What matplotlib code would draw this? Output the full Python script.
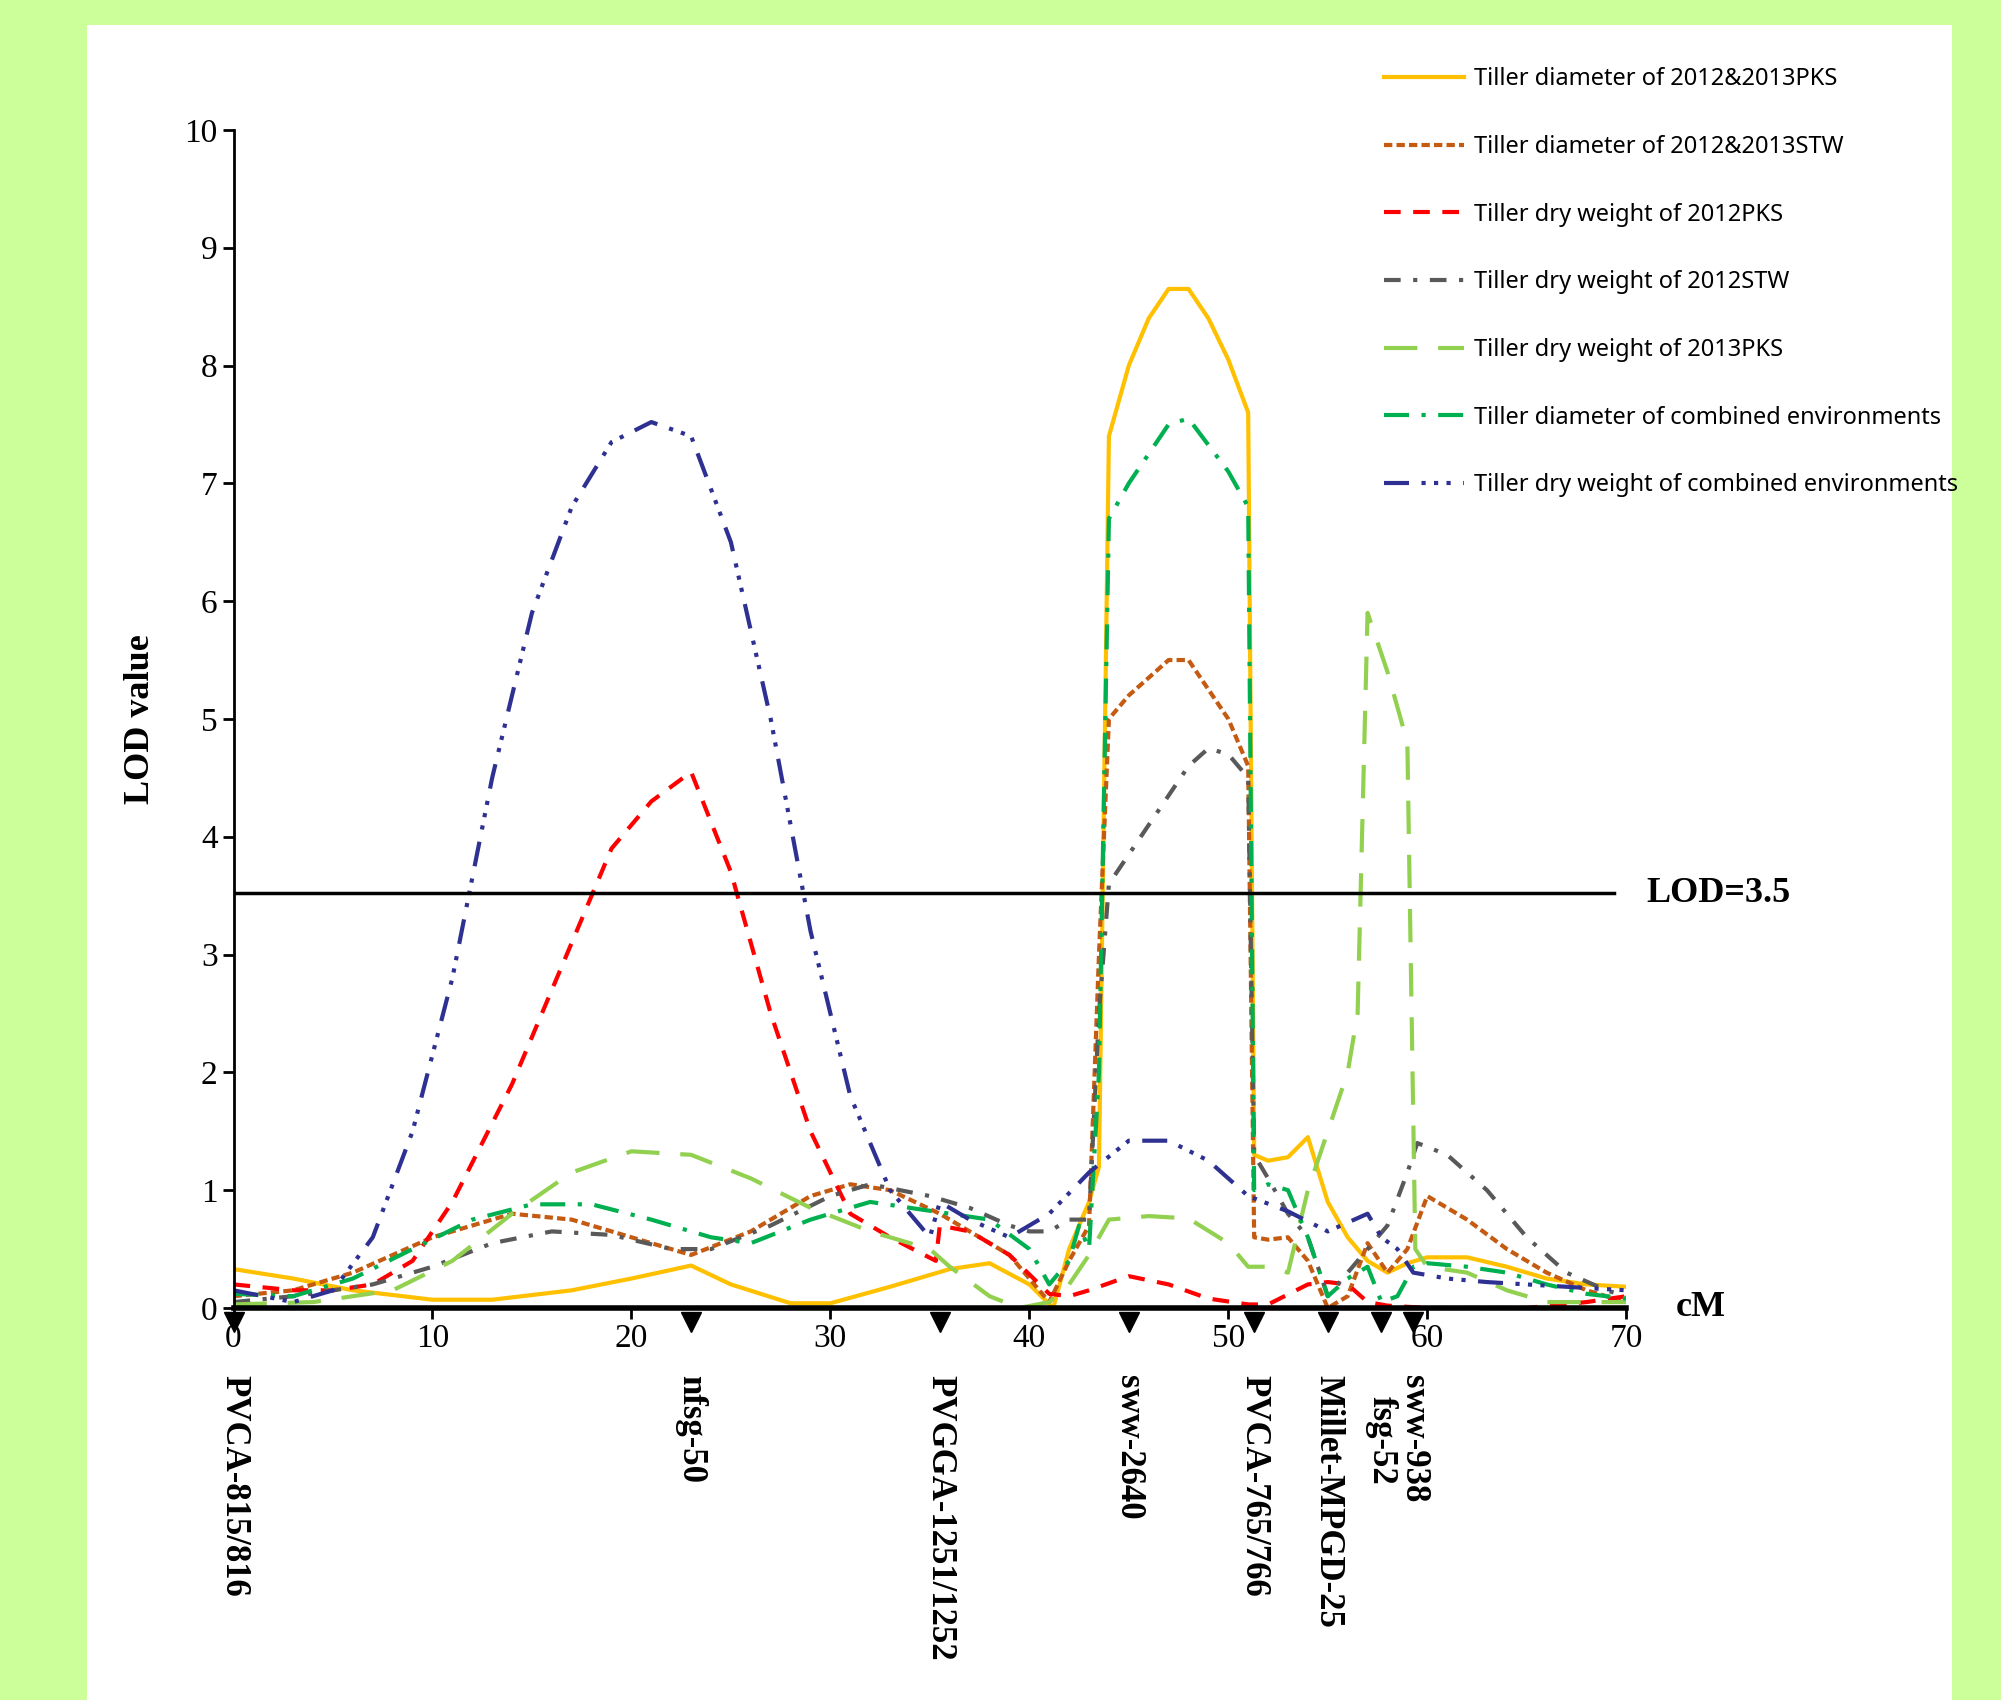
import numpy as np
import matplotlib
matplotlib.use('Agg')
import matplotlib.pyplot as plt

# LOD profiles: (cM, LOD)
td_pks = [(0,.33),(3,.25),(6,.15),(10,.07),(13,.07),(17,.15),(20,.25),(23,.36),(25,.2),(28,.04),(30,.04),(33,.18),
          (36,.33),(38,.38),(40,.2),(41.2,0),(42,.5),(43,.9),(43.5,1.2),(44,7.4),(45,8.0),(46,8.4),(47,8.65),(48,8.65),
          (49,8.4),(50,8.05),(51,7.6),(51.3,1.3),(52,1.25),(53,1.28),(54,1.45),(55,.9),(56,.6),(57,.4),(58,.3),(59,.38),
          (60,.43),(62,.43),(64,.35),(66,.25),(68,.2),(70,.18)]
td_stw = [(0,.1),(3,.15),(6,.3),(10,.6),(14,.8),(17,.75),(20,.6),(23,.45),(26,.65),(29,.95),(31,1.05),(33,1.0),
          (35.5,.8),(37,.65),(39,.45),(41,.05),(42,.4),(43,.7),(43.5,3),(44,5.0),(45,5.2),(47,5.5),(48,5.5),(50,5.0),
          (51,4.6),(51.3,.6),(52,.58),(53,.6),(54,.4),(55,0),(56,.1),(57,.55),(58,.3),(59,.5),(60,.95),(62,.75),
          (64,.5),(66,.3),(68,.15),(70,.05)]
dw_12pks = [(0,.2),(3,.15),(5,.15),(7,.2),(9,.4),(11,.9),(14,1.9),(17,3.1),(19,3.9),(21,4.3),(23,4.55),(25,3.7),
            (27,2.5),(29,1.5),(31,.8),(33,.6),(35.3,.4),(35.5,.7),(37,.65),(39,.45),(41,.12),(42,.1),(43,.15),(45,.27),
            (47,.2),(49,.08),(51,.03),(52,.03),(54,.2),(55,.22),(56,.2),(57,.05),(58,.02),(60,0),(65,0),(68,.05),(70,.1)]
dw_12stw = [(0,.05),(3,.1),(7,.2),(10,.35),(13,.55),(16,.65),(19,.62),(22,.5),(24,.5),(27,.7),(30,.95),(32,1.05),
            (35,.95),(37,.85),(39,.7),(40,.65),(41,.65),(42,.75),(43,.75),(43.5,2.5),(44,3.6),(46,4.1),(48,4.6),
            (49,4.75),(50,4.7),(51,4.5),(51.3,1.3),(52,1.1),(53,.8),(54,.6),(55,.1),(56,.3),(57,.5),(58,.7),(59,1.15),
            (59.5,1.4),(61,1.3),(63,1.0),(65,.6),(67,.3),(69,.15),(70,.1)]
dw_13pks = [(0,.03),(4,.05),(8,.15),(11,.4),(14,.8),(17,1.15),(20,1.33),(23,1.3),(26,1.1),(29,.85),(32,.65),(35,.5),
            (36,.35),(38,.1),(39.5,0),(41,.05),(42,.2),(43,.45),(44,.75),(46,.78),(48,.76),(50,.55),(51,.35),(52,.35),
            (53,.3),(54,1.0),(55,1.5),(56,2.0),(56.5,2.5),(57,5.9),(58,5.4),(59,4.8),(59.4,.5),(60,.35),(62,.3),
            (64,.15),(66,.05),(70,.05)]
td_comb = [(0,.12),(3,.1),(6,.25),(9,.5),(12,.75),(15,.88),(18,.88),(21,.75),(24,.6),(26,.55),(29,.75),(32,.9),
           (34,.85),(36,.8),(38,.75),(40,.5),(41,.2),(42,.4),(42.5,.7),(43,.5),(43.5,2),(44,6.7),(45,7.0),(47,7.5),
           (48,7.55),(50,7.1),(51,6.8),(51.3,1.0),(52,1.05),(53,1.0),(54,.6),(55,.1),(56,.25),(57,.35),(57.7,.05),
           (58.5,.1),(59.3,.35),(60,.38),(62,.35),(64,.3),(66,.2),(68,.12),(70,.08)]
dw_comb = [(0,.15),(3,.05),(5,.15),(7,.6),(9,1.5),(11,2.8),(13,4.5),(15,5.9),(17,6.8),(19,7.35),(21,7.52),(23,7.4),
           (25,6.5),(27,5.0),(29,3.2),(31,1.8),(33,1.0),(35,.6),(35.5,.9),(37,.75),(39,.6),(41,.8),(43,1.15),(45,1.42),
           (47,1.42),(49,1.25),(51,.95),(53,.82),(55,.65),(57,.8),(57.7,.6),(58.5,.5),(59.3,.3),(61,.25),(63,.22),
           (65,.2),(67,.18),(70,.15)]

series = [
    ('Tiller diameter of 2012&2013PKS', td_pks, '#FFC000', '-'),
    ('Tiller diameter of 2012&2013STW', td_stw, '#C55A11', (0, (2, 1))),
    ('Tiller dry weight of 2012PKS', dw_12pks, '#FF0000', (0, (4, 3))),
    ('Tiller dry weight of 2012STW', dw_12stw, '#595959', (0, (4, 3, 1, 3))),
    ('Tiller dry weight of 2013PKS', dw_13pks, '#92D050', (0, (8, 5))),
    ('Tiller diameter of combined environments', td_comb, '#00B050', (0, (6, 3, 1, 3))),
    ('Tiller dry weight of combined environments', dw_comb, '#2E3192', (0, (6, 3, 1, 2, 1, 2, 1, 3))),
]

marker_pos = [0, 23, 35.5, 45, 51.3, 55, 57.7, 59.3]
marker_names = ['PVCA-815/816', 'nfsg-50', 'PVGGA-1251/1252', 'sww-2640', 'PVCA-765/766',
                'Millet-MPGD-25', 'fsg-52', 'sww-938']
lod = 3.52

serif = 'Liberation Serif'
fig = plt.figure(figsize=(20.01, 17), dpi=100, facecolor='#CCFF99')
fig.patches.append(plt.Rectangle((87/2001, 0), 1865/2001, 1-25/1700, transform=fig.transFigure,
                                 facecolor='white', edgecolor='none', zorder=-10))
ax = fig.add_axes([0.1167, 0.2306, 0.696, 0.693])
ax.set_facecolor('none')

for name, pts, col, ls in series:
    x, y = zip(*pts)
    ax.plot(x, y, color=col, ls=ls, lw=3, label=name)

ax.plot([0, 69.4], [lod, lod], color='black', lw=2.5)
ax.text(71, lod, 'LOD=3.5', fontsize=26, fontweight='bold', family=serif, va='center')
ax.text(72.5, 0, 'cM', fontsize=26, fontweight='bold', family=serif, va='center')

ax.plot(marker_pos, [-0.12] * len(marker_pos), 'kv', ms=14, clip_on=False)
for xp, nm in zip(marker_pos, marker_names):
    yy = -0.75 if nm == 'fsg-52' else -0.57
    ax.text(xp, yy, nm, rotation=-90, ha='center', va='top', fontsize=25, fontweight='bold', family=serif)

ax.set_xlim(0, 70)
ax.set_ylim(0, 10)
ax.set_xticks(range(0, 71, 10))
ax.set_yticks(range(0, 11))
for s in ['top', 'right']:
    ax.spines[s].set_visible(False)
ax.spines['bottom'].set_linewidth(4)
ax.spines['left'].set_linewidth(2)
ax.tick_params(labelsize=24, width=2, length=8)
for lab in ax.get_xticklabels() + ax.get_yticklabels():
    lab.set_family(serif)
ax.set_ylabel('LOD value', fontsize=26, fontweight='bold', family=serif, labelpad=20)

fig.legend(loc='upper left', bbox_to_anchor=(0.681, 0.973), frameon=False,
           handlelength=3.4, handletextpad=0.4, labelspacing=1.85, prop={'family': 'Noto Sans', 'size': 17})

fig.savefig('out.png', dpi=100, facecolor=fig.get_facecolor())
